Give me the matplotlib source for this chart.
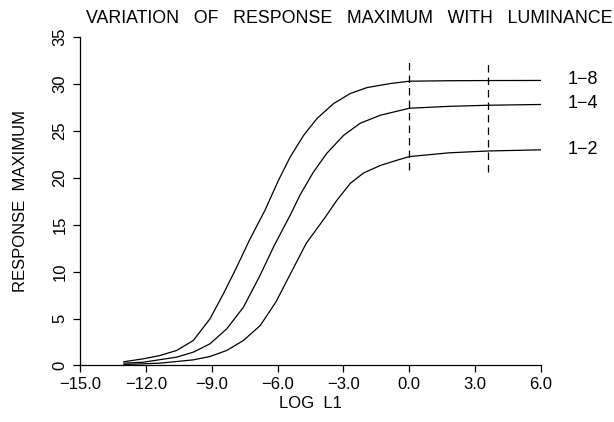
import matplotlib
matplotlib.use('Agg')
import matplotlib.pyplot as plt

plt.rcParams['font.family'] = ['Liberation Sans', 'DejaVu Sans']

# curves (log L1, response maximum)
x_18 = [-13.0, -12.12, -11.36, -10.6, -9.84, -9.08, -8.47, -7.9, -7.28, -6.57,
        -5.96, -5.43, -4.82, -4.21, -3.45, -2.69, -1.93, -0.87, 0.0, 1.8, 3.6, 6.0]
y_18 = [0.4, 0.71, 1.06, 1.6, 2.66, 4.97, 7.64, 10.3, 13.37, 16.56,
        19.73, 22.2, 24.5, 26.3, 27.9, 28.97, 29.6, 30.03, 30.28, 30.33, 30.35, 30.36]

x_14 = [-13.0, -12.12, -10.6, -9.84, -9.08, -8.32, -7.56, -6.8, -6.15, -5.43,
        -4.97, -4.37, -3.76, -3.0, -2.24, -1.33, 0.0, 1.8, 3.6, 6.0]
y_14 = [0.25, 0.35, 0.89, 1.42, 2.31, 3.9, 6.2, 9.6, 12.8, 16.0,
        18.2, 20.6, 22.6, 24.5, 25.8, 26.65, 27.4, 27.6, 27.72, 27.8]

x_12 = [-13.0, -11.36, -9.84, -9.08, -8.32, -7.56, -6.79, -6.07, -5.43, -4.7,
        -3.83, -3.3, -2.69, -2.09, -1.33, -0.57, 0.0, 1.8, 3.6, 6.0]
y_12 = [0.1, 0.25, 0.6, 0.96, 1.6, 2.66, 4.26, 6.8, 9.7, 13.0,
        15.8, 17.6, 19.4, 20.5, 21.3, 21.86, 22.25, 22.65, 22.85, 22.97]

series_names = ['1\u22128', '1\u22124', '1\u22122']
label_y = [30.5, 27.9, 22.97]

# dashed markers
dash_x = [0.0, 3.6]
dash_lo = [20.8, 20.6]
dash_hi = [32.4, 32.1]

xticks = [-15, -12, -9, -6, -3, 0, 3, 6]
yticks = [0, 5, 10, 15, 20, 25, 30, 35]

fig = plt.figure(figsize=(6.14, 4.22), dpi=100)
ax = fig.add_axes([0.1303, 0.1339, 0.751, 0.7787])

for xs, ys in [(x_18, y_18), (x_14, y_14), (x_12, y_12)]:
    ax.plot(xs, ys, color='black', lw=0.9)

for xd, lo, hi in zip(dash_x, dash_lo, dash_hi):
    ax.plot([xd, xd], [lo, hi], color='black', lw=0.9, dashes=(6, 4))

for name, yv in zip(series_names, label_y):
    ax.text(7.2, yv, name, fontsize=13, va='center', ha='left', clip_on=False)

ax.set_xlim(-15, 6)
ax.set_ylim(0, 35)
ax.set_xticks(xticks)
ax.set_xticklabels(['%.1f' % v if v >= 0 else '\u2212%.1f' % -v for v in xticks])
ax.set_yticks(yticks)
ax.set_yticklabels([str(v) for v in yticks], rotation=90, va='center')

for s in ['top', 'right']:
    ax.spines[s].set_visible(False)
for s in ['left', 'bottom']:
    ax.spines[s].set_linewidth(0.9)

ax.tick_params(axis='both', direction='out', length=5, width=0.9, labelsize=12)
ax.tick_params(axis='x', pad=3)
ax.tick_params(axis='y', pad=4)

ax.set_xlabel('LOG  L1', fontsize=12, labelpad=3)
ax.set_ylabel('RESPONSE  MAXIMUM', fontsize=12, labelpad=18)

fig.text(0.997, 0.957, 'VARIATION   OF   RESPONSE   MAXIMUM   WITH   LUMINANCE',
         fontsize=12.8, ha='right', va='center')

fig.savefig('out.png', dpi=100)
